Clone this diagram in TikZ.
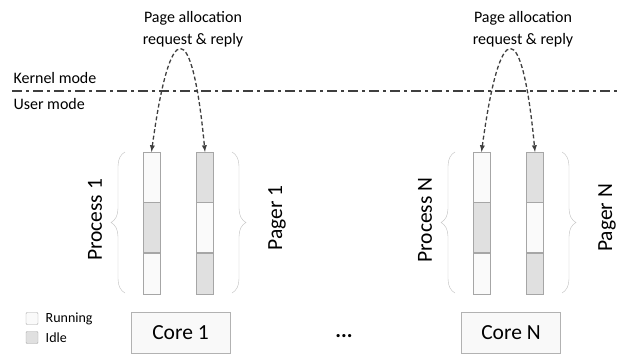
\documentclass[tikz,border=0pt]{standalone}
\usepackage{fontspec}
\setmainfont{Carlito}
\usetikzlibrary{positioning,decorations.pathreplacing}
\definecolor{barline}{HTML}{A6A6A6}
\definecolor{idlegray}{HTML}{E0E0E0}
\definecolor{runwhite}{HTML}{FAFAFA}
\definecolor{bracegray}{HTML}{BFBFBF}
\definecolor{arrowgray}{HTML}{3F3F3F}
\begin{document}
\begin{tikzpicture}[x=1pt,y=-1pt,node distance=0pt,
	seg/.style = {draw=barline, minimum width=17pt, inner sep=0pt},
	run/.style = {seg, fill=runwhite},
	idle/.style = {seg, fill=idlegray},
	req/.style = {latex-latex, draw=arrowgray, line width=1.3pt, dash pattern=on 4pt off 2.5pt},
	grp/.style = {draw=bracegray, thin, decorate, decoration={brace, amplitude=14pt}},
	side/.style = {rotate=90, font=\fontsize{21.5}{24}\selectfont},
	core/.style = {draw=gray!60, fill=gray!5, minimum width=99pt, minimum height=41pt, font=\fontsize{21.5}{24}\selectfont},
	note/.style = {align=center, font=\fontsize{16}{22}\selectfont},
	key/.style = {draw=barline, minimum size=12pt, inner sep=0pt, rounded corners=1pt}]
	
	\useasboundingbox (0,0) rectangle (619,354);
	
	% mode boundary
	\draw[arrowgray, line width=1.2pt, dash pattern=on 10pt off 4pt on 3pt off 4pt] (12,91) -- (619,91);
	\node[note, anchor=west] (kern) at (10,78) {Kernel mode};
	\node[note, anchor=west] (user) at (10,104) {User mode};
	
	% process 1 / pager 1
	\node[run, minimum height=50pt, anchor=north] (p1a) at (151.5,152) {};
	\node[idle, minimum height=50pt] [below=of p1a] (p1b) {};
	\node[run, minimum height=41pt] [below=of p1b] (p1c) {};
	\node[idle, minimum height=50pt, anchor=north] (g1a) at (205,152) {};
	\node[run, minimum height=50pt] [below=of g1a] (g1b) {};
	\node[idle, minimum height=41pt] [below=of g1b] (g1c) {};
	\draw[grp] (125,293) -- (125,152);
	\draw[grp] (232,152) -- (232,293);
	\node[side] (proc1) at (95,220) {Process 1};
	\node[side] (pag1) at (277,218) {Pager 1};
	\node[note] (req1) at (193,29) {Page allocation\\request \& reply};
	\draw[req] (p1a.north) .. controls (170,16) and (192,16) .. (g1a.north);
	
	% process N / pager N
	\node[run, minimum height=50pt, anchor=north] (pNa) at (481.5,152) {};
	\node[idle, minimum height=50pt] [below=of pNa] (pNb) {};
	\node[run, minimum height=41pt] [below=of pNb] (pNc) {};
	\node[idle, minimum height=50pt, anchor=north] (gNa) at (535,152) {};
	\node[run, minimum height=50pt] [below=of gNa] (gNb) {};
	\node[idle, minimum height=41pt] [below=of gNb] (gNc) {};
	\draw[grp] (455,293) -- (455,152);
	\draw[grp] (562,152) -- (562,293);
	\node[side] (procN) at (425,220) {Process N};
	\node[side] (pagN) at (607,218) {Pager N};
	\node[note] (reqN) at (523,29) {Page allocation\\request \& reply};
	\draw[req] (pNa.north) .. controls (500,16) and (522,16) .. (gNa.north);
	
	% cores
	\node[core] (core1) at (180.5,332.5) {Core 1};
	\node[core] (coreN) at (511,332.5) {Core N};
	\node[font=\fontsize{21.5}{24}\selectfont\bfseries] (dots) at (344,336) {...};
	
	% legend
	\node[key, fill=runwhite] (krun) at (32,318.5) {};
	\node[key, fill=idlegray] (kidle) at (32,337.5) {};
	\node[font=\fontsize{14}{16}\selectfont, right=4pt of krun] {Running};
	\node[font=\fontsize{14}{16}\selectfont, right=4pt of kidle] {Idle};
	
\end{tikzpicture}
\end{document}
